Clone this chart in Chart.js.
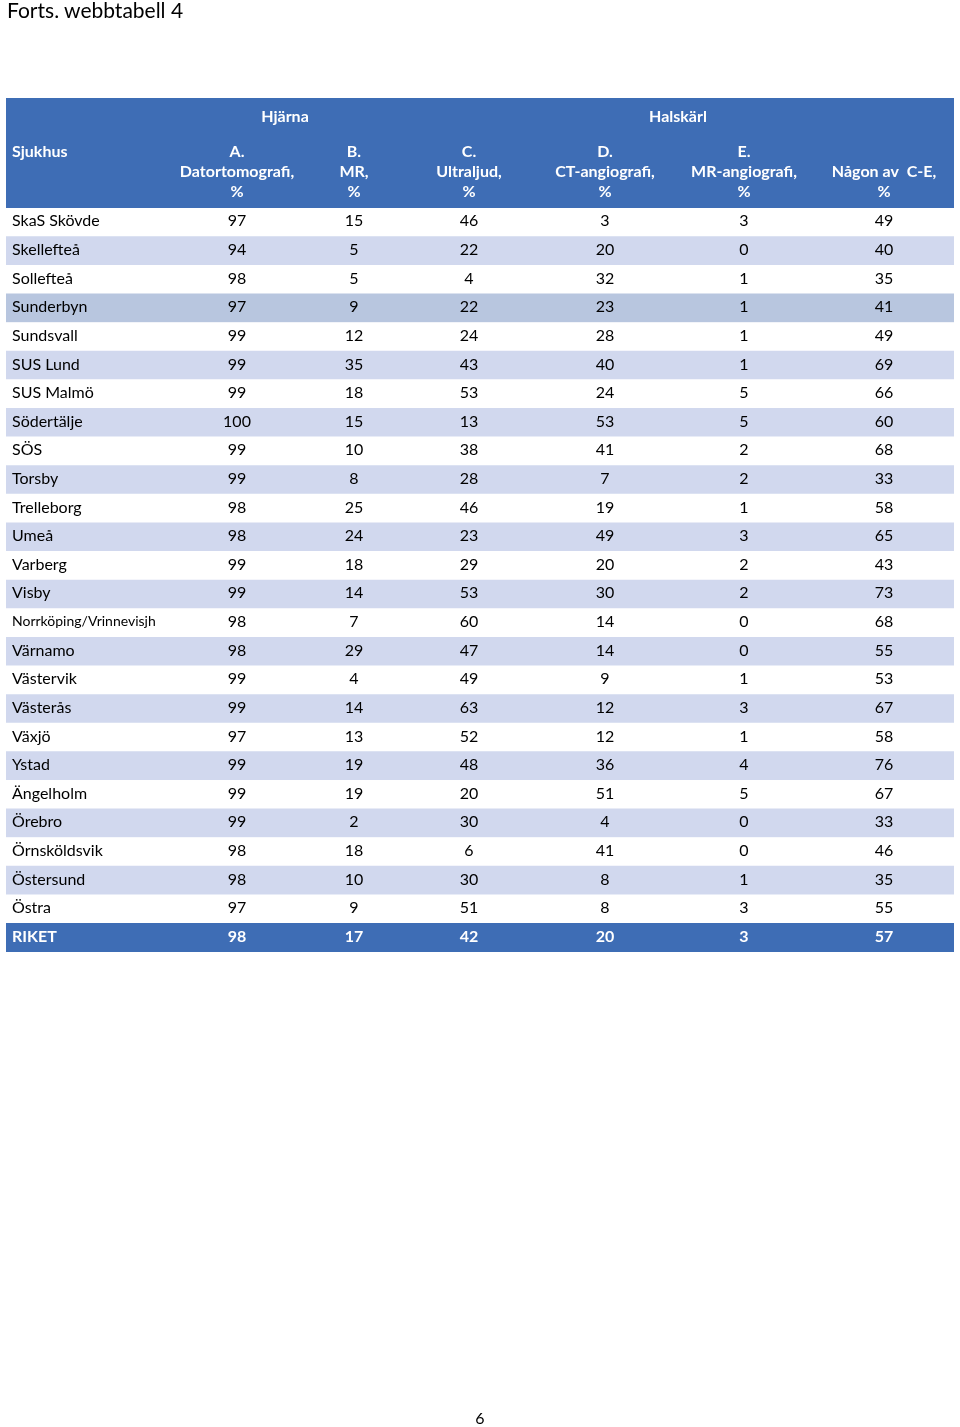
<!DOCTYPE html>
<html>
<head>
<meta charset="utf-8">
<script src="https://cdn.jsdelivr.net/npm/chart.js@4"></script>
<style>
  html, body { margin: 0; padding: 0; background: #fff; }
  body { width: 960px; height: 1427px; position: relative; overflow: hidden; font-family: Lato, "Open Sans", sans-serif; }
  #title { position: absolute; left: 7px; top: -3px; font-size: 21px; color: #000; white-space: nowrap; }
  #page { position: absolute; left: 0; width: 960px; top: 1408px; text-align: center; font-size: 16px; color: #000; }
  #wrap { position: absolute; left: 0; top: 0; width: 960px; height: 1427px; }
</style>
</head>
<body>
<div id="wrap"><canvas id="c" width="960" height="1427"></canvas></div>
<div id="title">Forts. webbtabell 4</div>
<div id="page">6</div>
<script>
// ---- data ----
const hospitals = ["SkaS Skövde","Skellefteå","Sollefteå","Sunderbyn","Sundsvall","SUS Lund","SUS Malmö","Södertälje","SÖS","Torsby","Trelleborg","Umeå","Varberg","Visby","Norrköping/Vrinnevisjh","Värnamo","Västervik","Västerås","Växjö","Ystad","Ängelholm","Örebro","Örnsköldsvik","Östersund","Östra"];
const colA = [97,94,98,97,99,99,99,100,99,99,98,98,99,99,98,98,99,99,97,99,99,99,98,98,97];
const colB = [15,5,5,9,12,35,18,15,10,8,25,24,18,14,7,29,4,14,13,19,19,2,18,10,9];
const colC = [46,22,4,22,24,43,53,13,38,28,46,23,29,53,60,47,49,63,52,48,20,30,6,30,51];
const colD = [3,20,32,23,28,40,24,53,41,7,19,49,20,30,14,14,9,12,12,36,51,4,41,8,8];
const colE = [3,0,1,1,1,1,5,5,2,2,1,3,2,2,0,0,1,3,1,4,5,0,0,1,3];
const colF = [49,40,35,41,49,69,66,60,68,33,58,65,43,73,68,55,53,67,58,76,67,33,46,35,55];
const totalLabel = "RIKET";
const totalRow = [98,17,42,20,3,57];
const groupHeaders = ["Hjärna","Halskärl"];
const rowHeader = "Sjukhus";
const colHeaders = [["A.","Datortomografi,","%"],["B.","MR,","%"],["C.","Ultraljud,","%"],["D.","CT-angiografi,","%"],["E.","MR-angiografi,","%"],["Någon av  C-E,","%"]];

// ---- layout (table units, 0..948 across) ----
const colPos = [231, 348, 463, 599, 738, 878];
const groupPos = [279, 672];
const labelPos = 6;
const HEADER_H = 110;
const FONT = 'Lato, "Open Sans", sans-serif';
const BLUE = '#3e6db5';
const LIGHT = '#d1d8ee';
const MID = '#b8c6df';

const rowLabels = hospitals.concat([totalLabel]);
const valueCols = [colA, colB, colC, colD, colE, colF];
const rowColors = rowLabels.map((l, i) => {
  if (i === rowLabels.length - 1) return BLUE;
  if (l === 'Sunderbyn') return MID;
  return i % 2 === 1 ? LIGHT : '#ffffff';
});

const tablePlugin = {
  id: 'tablePlugin',
  beforeDatasetsDraw(chart) {
    const ctx = chart.ctx, ca = chart.chartArea, x = chart.scales.x;
    ctx.save();
    ctx.fillStyle = BLUE;
    const l = x.getPixelForValue(0), r = x.getPixelForValue(948);
    ctx.fillRect(l, ca.top - HEADER_H, r - l, HEADER_H);
    ctx.restore();
  },
  afterDatasetsDraw(chart) {
    const ctx = chart.ctx, ca = chart.chartArea, x = chart.scales.x, y = chart.scales.y;
    ctx.save();
    ctx.textBaseline = 'middle';
    // header
    ctx.fillStyle = '#ffffff';
    ctx.font = 'bold 16px ' + FONT;
    ctx.textAlign = 'center';
    const top = ca.top - HEADER_H;
    groupHeaders.forEach((g, i) => ctx.fillText(g, x.getPixelForValue(groupPos[i]), top + 19));
    ctx.textAlign = 'left';
    ctx.fillText(rowHeader, x.getPixelForValue(labelPos), top + 54);
    ctx.textAlign = 'center';
    colHeaders.forEach((lines, c) => {
      const start = top + 54 + (3 - lines.length) * 20;
      lines.forEach((t, k) => ctx.fillText(t, x.getPixelForValue(colPos[c]), start + k * 20));
    });
    // body
    rowLabels.forEach((lab, i) => {
      const yy = y.getPixelForValue(i) - 1;
      const isTotal = i === rowLabels.length - 1;
      ctx.fillStyle = isTotal ? '#ffffff' : '#000000';
      const w = isTotal ? 'bold ' : '';
      ctx.textAlign = 'left';
      ctx.font = w + (lab.length > 18 ? '14px ' : '16px ') + FONT;
      ctx.fillText(lab, x.getPixelForValue(labelPos), yy);
      ctx.font = w + '16px ' + FONT;
      ctx.textAlign = 'center';
      for (let c = 0; c < 6; c++) {
        const v = isTotal ? totalRow[c] : valueCols[c][i];
        ctx.fillText(String(v), x.getPixelForValue(colPos[c]), yy);
      }
    });
    ctx.restore();
  }
};

new Chart(document.getElementById('c'), {
  type: 'bar',
  data: {
    labels: rowLabels,
    datasets: [{
      data: rowLabels.map(() => [0, 948]),
      backgroundColor: rowColors,
      borderWidth: 0,
      barPercentage: 1,
      categoryPercentage: 1
    }]
  },
  options: {
    indexAxis: 'y',
    responsive: false,
    animation: false,
    events: [],
    layout: { padding: { left: 6, right: 6, top: 208, bottom: 475 } },
    plugins: { legend: { display: false }, tooltip: { enabled: false } },
    scales: {
      x: { type: 'linear', min: 0, max: 948, display: false },
      y: { type: 'category', display: false, offset: true }
    }
  },
  plugins: [tablePlugin]
});
</script>
</body>
</html>
